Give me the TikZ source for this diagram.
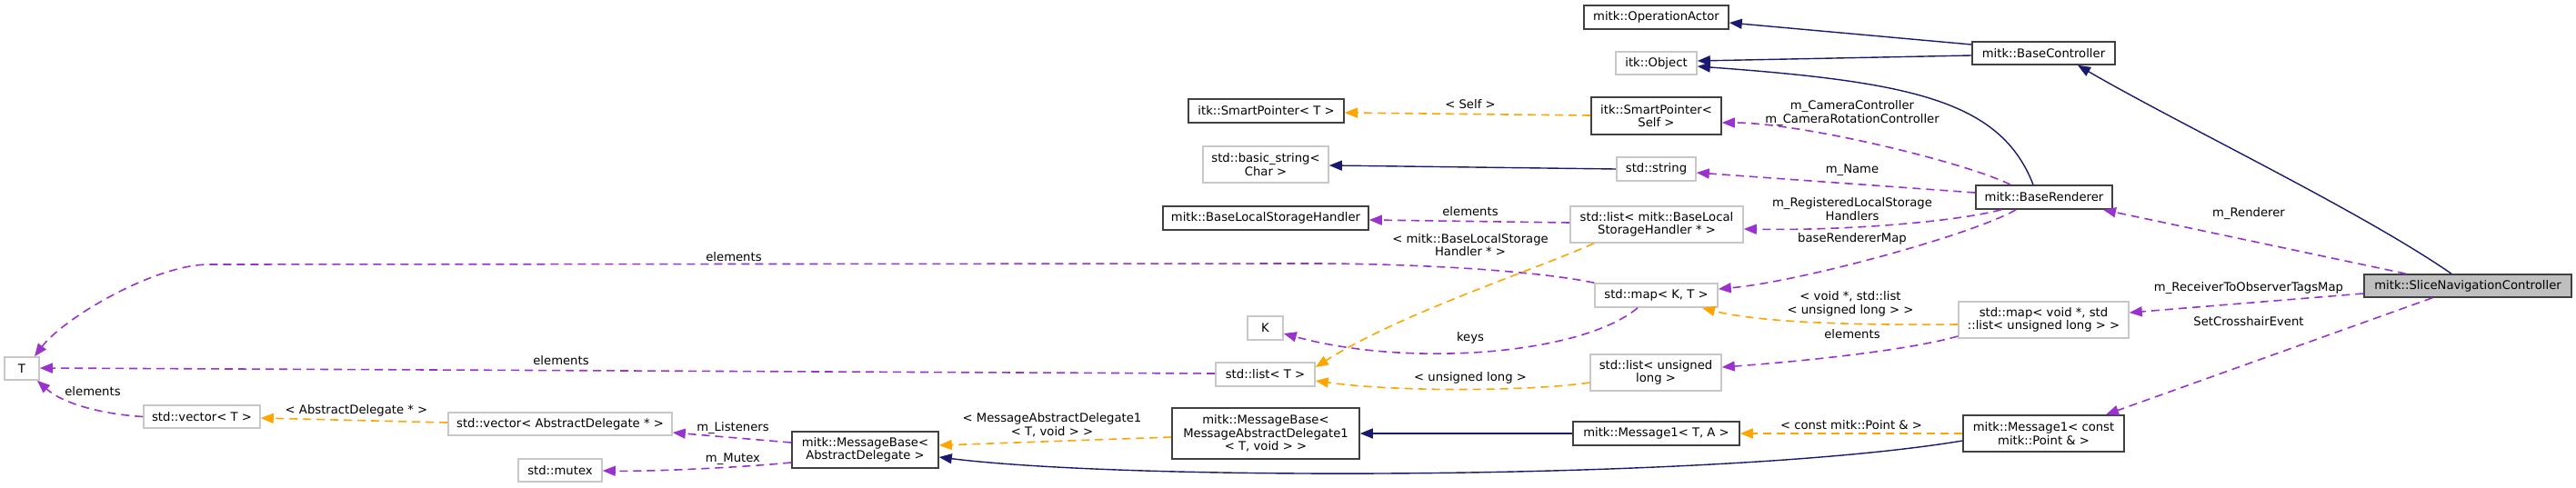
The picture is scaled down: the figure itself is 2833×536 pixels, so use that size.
\documentclass[tikz,border=0pt]{standalone}
\usepackage{fontspec}
\setmainfont{DejaVu Sans}
\usetikzlibrary{arrows.meta,calc}
\definecolor{inhblue}{HTML}{191970}
\definecolor{usepurple}{HTML}{9A32CD}
\definecolor{tplorange}{HTML}{FFA500}
\definecolor{docborder}{HTML}{404040}
\definecolor{undocborder}{HTML}{C8C8C8}
\definecolor{selfill}{HTML}{BFBFBF}
\tikzset{
  txt/.style={font=\fontsize{13.2}{14.5}\selectfont, align=center, inner sep=0pt},
  docnode/.style={txt, rectangle, draw=docborder, line width=1.6pt, fill=white},
  undocnode/.style={txt, rectangle, draw=undocborder, line width=1.6pt, fill=white},
  selnode/.style={txt, rectangle, draw=docborder, line width=1.6pt, fill=selfill},
  tip/.style={-{Triangle[length=14pt,width=11pt]}},
  inh/.style={tip, draw=inhblue, line width=1.4pt},
  usage/.style={tip, draw=usepurple, line width=1.6pt, dash pattern=on 9pt off 6pt},
  tpl/.style={tip, draw=tplorange, line width=1.6pt, dash pattern=on 9pt off 6pt},
  lbl/.style={txt},
}
\begin{document}
\begin{tikzpicture}[x=1pt,y=-1pt]
\useasboundingbox[fill=white] (0,0) rectangle (2833,536);

% nodes
\node[docnode, minimum width=159, minimum height=26] (opactor) at (1821.5,19) {mitk::OperationActor};
\node[undocnode, minimum width=89, minimum height=25] (itkobj) at (1821.5,69.5) {itk::Object};
\node[docnode, minimum width=157, minimum height=25] (basectrl) at (2247.5,58.5) {mitk::BaseController};
\node[docnode, minimum width=171, minimum height=26] (spT) at (1392.5,122) {itk::SmartPointer< T >};
\node[docnode, minimum width=143, minimum height=41] (spSelf) at (1821.5,127.5) {itk::SmartPointer<\\Self >};
\node[undocnode, minimum width=138, minimum height=40] (basestr) at (1392,181) {std::basic\_string<\\Char >};
\node[undocnode, minimum width=87, minimum height=26] (stdstr) at (1821.5,186) {std::string};
\node[docnode, minimum width=226, minimum height=26] (blsh) at (1392,240) {mitk::BaseLocalStorageHandler};
\node[undocnode, minimum width=190, minimum height=40] (listbl) at (1822,247) {std::list< mitk::BaseLocal\\StorageHandler * >};
\node[docnode, minimum width=150, minimum height=26] (baserend) at (2248,217) {mitk::BaseRenderer};
\node[selnode, minimum width=228, minimum height=25] (snc) at (2714,314.5) {mitk::SliceNavigationController};
\node[undocnode, minimum width=135, minimum height=26] (mapKT) at (1821.5,325) {std::map< K, T >};
\node[undocnode, minimum width=39, minimum height=26] (K) at (1391.5,361) {K};
\node[undocnode, minimum width=109, minimum height=26] (listT) at (1391.5,412) {std::list< T >};
\node[undocnode, minimum width=144, minimum height=40] (listul) at (1821,410) {std::list< unsigned\\long >};
\node[undocnode, minimum width=187, minimum height=40] (mapvoid) at (2247.5,352) {std::map< void *, std\\::list< unsigned long > >};
\node[undocnode, minimum width=38, minimum height=25] (T) at (24,405.5) {T};
\node[undocnode, minimum width=128, minimum height=25] (vecT) at (222,458.5) {std::vector< T >};
\node[undocnode, minimum width=246, minimum height=25] (vecAD) at (616,466.5) {std::vector< AbstractDelegate * >};
\node[undocnode, minimum width=92, minimum height=25] (mutex) at (616,517.5) {std::mutex};
\node[docnode, minimum width=161, minimum height=40] (mbAD) at (951.5,495) {mitk::MessageBase<\\AbstractDelegate >};
\node[docnode, minimum width=206, minimum height=56] (mbMAD) at (1392,477) {mitk::MessageBase<\\MessageAbstractDelegate1\\< T, void > >};
\node[docnode, minimum width=183, minimum height=26] (msg1TA) at (1821.5,477) {mitk::Message1< T, A >};
\node[docnode, minimum width=177, minimum height=40] (msg1P) at (2247.5,477) {mitk::Message1< const\\mitk::Point \& >};

% edges
\draw[inh] ($(basectrl.west)+(0,-9.5)$) -- ($(opactor.east)+(0,6)$);
\draw[inh] ($(basectrl.west)+(0,2.5)$) -- ($(itkobj.east)+(0,-2.5)$);
\draw[inh] ($(baserend.north)+(-12,0)$) .. controls (2200,110) and (2100,90) .. ($(itkobj.east)+(0,3.5)$);
\draw[inh] ($(snc.north)+(-18,0)$) .. controls (2596,232) and (2397,137) .. ($(basectrl.south)+(37.5,0)$);
\draw[usage] ($(snc.north)+(-68,0)$) -- ($(baserend.south)+(65,0)$);
\draw[usage] ($(snc.west)+(0,8.5)$) -- ($(mapvoid.east)+(0,-8)$);
\draw[usage] ($(snc.south)+(-39,0)$) -- ($(msg1P.north)+(68.5,0)$);
\draw[usage] ($(baserend.north)+(-37,0)$) .. controls (2160,178) and (1980,135) .. ($(spSelf.east)+(0,7.5)$);
\draw[usage] ($(baserend.west)+(0,-5)$) -- ($(stdstr.east)+(0,4)$);
\draw[usage] ($(baserend.south)+(-47,0)$) .. controls (2150,244) and (2030,254) .. ($(listbl.east)+(0,5)$);
\draw[usage] ($(baserend.south)+(-31,0)$) .. controls (2170,258) and (1980,310) .. ($(mapKT.east)+(0,-7)$);
\draw[tpl] ($(mapvoid.west)+(0,5)$) .. controls (2040,358) and (1935,355) .. ($(mapKT.south)+(50.5,0)$);
\draw[usage] ($(mapvoid.west)+(0,18)$) .. controls (2100,385) and (1990,397) .. ($(listul.east)+(0,-6)$);
\draw[usage] (mapKT.north west) .. controls (1690,298) and (1560,290) .. (1440,290) -- (230,291) .. controls (170,291) and (70,350) .. ($(T.north)+(14,0)$);
\draw[usage] ($(mapKT.south)+(-20.5,0)$) .. controls (1740,390) and (1550,405) .. ($(K.east)+(0,6)$);
\draw[usage] ($(listbl.west)+(0,-2)$) -- ($(blsh.east)+(0,2)$);
\draw[tpl] ($(listbl.south)+(-69,0)$) .. controls (1680,300) and (1540,345) .. ($(listT.east)+(0,-8)$);
\draw[tpl] ($(listul.west)+(0,11)$) .. controls (1690,430) and (1540,432) .. ($(listT.east)+(0,7)$);
\draw[usage] ($(listT.west)+(0,-1)$) -- ($(T.east)+(0,-0.5)$);
\draw[usage] (vecT.west) .. controls (115,456) and (70,445) .. ($(T.south)+(17,0)$);
\draw[tpl] ($(vecAD.west)+(0,-1.5)$) -- ($(vecT.east)+(0,1.5)$);
\draw[usage] ($(mbAD.west)+(0,-8)$) -- ($(vecAD.east)+(0,9.5)$);
\draw[usage] ($(mbAD.west)+(0,14)$) .. controls (820,514) and (720,519) .. ($(mutex.east)+(0,0.5)$);
\draw[tpl] ($(mbMAD.west)+(0,4)$) -- ($(mbAD.east)+(0,-5)$);
\draw[inh] (msg1TA.west) -- (mbMAD.east);
\draw[tpl] (msg1P.west) -- (msg1TA.east);
\draw[inh] ($(msg1P.west)+(0,8)$) .. controls (1900,528) and (1250,530) .. ($(mbAD.east)+(0,8)$);
\draw[tpl] ($(spSelf.west)+(0,-0.5)$) -- ($(spT.east)+(0,2)$);
\draw[inh] (stdstr.west) -- ($(basestr.east)+(0,1)$);

% labels
\node[lbl] (l1) at (1617,115) {< Self >};
\node[lbl] (l2) at (2037,124.5) {m\_CameraController\\m\_CameraRotationController};
\node[lbl] (l3) at (2037,187) {m\_Name};
\node[lbl] (l4) at (2037,230) {m\_RegisteredLocalStorage\\Handlers};
\node[lbl] (l5) at (2037,263) {baseRendererMap};
\node[lbl] (l6) at (2035,334.5) {< void *, std::list\\< unsigned long > >};
\node[lbl] (l7) at (2037,368) {elements};
\node[lbl] (l8) at (1617,233) {elements};
\node[lbl] (l9) at (1617,269.5) {< mitk::BaseLocalStorage\\Handler * >};
\node[lbl] (l10) at (1617,372) {keys};
\node[lbl] (l11) at (1617,416) {< unsigned long >};
\node[lbl] (l12) at (807,283) {elements};
\node[lbl] (l13) at (617,397) {elements};
\node[lbl] (l14) at (102,431) {elements};
\node[lbl] (l15) at (392,452) {< AbstractDelegate * >};
\node[lbl] (l16) at (806,471) {m\_Listeners};
\node[lbl] (l17) at (806,505) {m\_Mutex};
\node[lbl] (l18) at (1157,467.5) {< MessageAbstractDelegate1\\< T, void > >};
\node[lbl] (l19) at (2036,468) {< const mitk::Point \& >};
\node[lbl] (l20) at (2473,235) {m\_Renderer};
\node[lbl] (l21) at (2473,317) {m\_ReceiverToObserverTagsMap};
\node[lbl] (l22) at (2473,354) {SetCrosshairEvent};
\end{tikzpicture}
\end{document}
